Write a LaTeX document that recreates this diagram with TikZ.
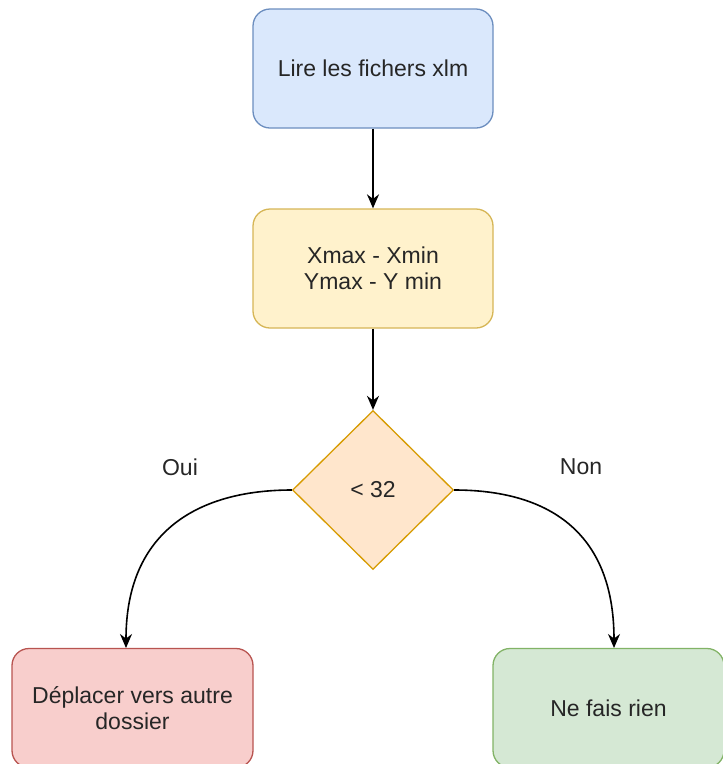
\documentclass[tikz,border=0pt]{standalone}
\usepackage{fontspec}
\setmainfont{Liberation Sans}
\usetikzlibrary{shapes.geometric,arrows.meta}

\definecolor{blueFill}{HTML}{DAE8FC}\definecolor{blueLine}{HTML}{6C8EBF}
\definecolor{yellowFill}{HTML}{FFF2CC}\definecolor{yellowLine}{HTML}{D6B656}
\definecolor{orangeFill}{HTML}{FFE6CC}\definecolor{orangeLine}{HTML}{D79B00}
\definecolor{redFill}{HTML}{F8CECC}\definecolor{redLine}{HTML}{B85450}
\definecolor{greenFill}{HTML}{D5E8D4}\definecolor{greenLine}{HTML}{82B366}
\definecolor{ink}{HTML}{262626}

\tikzset{
  txt/.style={font=\fontsize{23}{26}\selectfont, text=ink, align=center},
  stepbox/.style={txt, rectangle, rounded corners=17pt, line width=1.3pt,
    minimum width=240pt, minimum height=119pt, inner sep=0pt},
  decision/.style={txt, diamond, line width=1.3pt, aspect=1,
    minimum width=161pt, minimum height=159pt, inner sep=0pt},
  link/.style={line width=1.6pt, -{Stealth[length=14pt,width=12pt]}},
}

\begin{document}
\begin{tikzpicture}[x=1pt,y=-1pt]
  \useasboundingbox (0,0) rectangle (723,764);
  \begin{scope}
    \clip (0,0) rectangle (723,764);

    \node[stepbox, fill=blueFill, draw=blueLine] (read) at (373,68.5) {Lire les fichers xlm};
    \node[stepbox, fill=yellowFill, draw=yellowLine] (diff) at (373,268.5) {Xmax - Xmin\\Ymax - Y min};
    \node[decision, fill=orangeFill, draw=orangeLine] (test) at (373,490) {< 32};
    \node[stepbox, fill=redFill, draw=redLine, minimum width=241pt] (move) at (132.5,708) {Déplacer vers autre\\dossier};
    \node[stepbox, fill=greenFill, draw=greenLine, minimum width=231pt] (none) at (608.5,708) {Ne fais rien};

    \node[txt] (yes) at (180,467) {Oui};
    \node[txt] (no) at (581,467) {Non};

    \coordinate (moveIn) at (126,648);
    \coordinate (noneIn) at (614,648);

    \draw[link] (read) -- (diff);
    \draw[link] (diff) -- (test);
    \draw[link] (test.west) .. controls (200,490) and (126,530) .. (moveIn);
    \draw[link] (test.east) .. controls (546,490) and (614,530) .. (noneIn);
  \end{scope}
\end{tikzpicture}
\end{document}
